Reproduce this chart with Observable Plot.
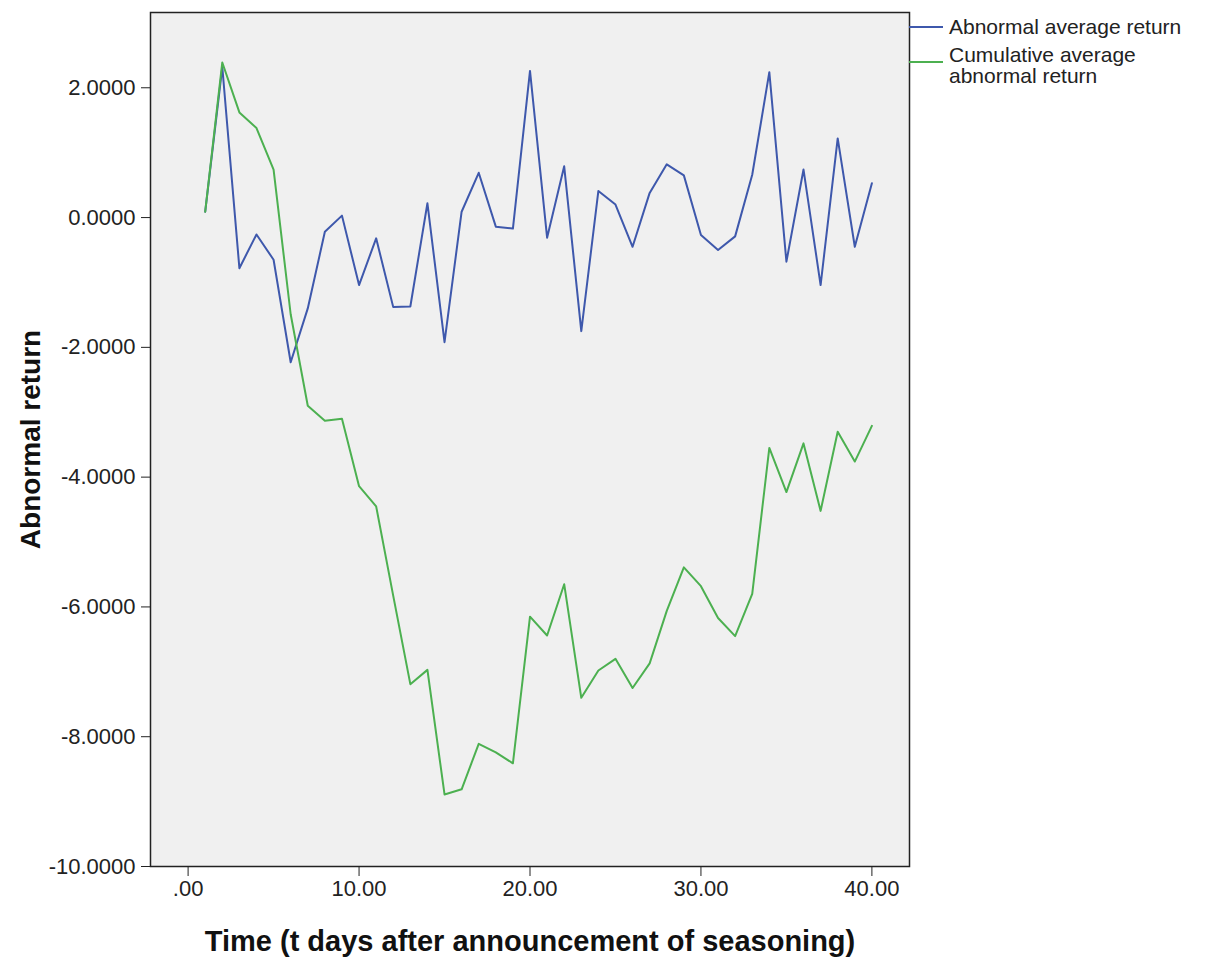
<!DOCTYPE html>
<html><head><meta charset="utf-8">
<script src="https://cdn.jsdelivr.net/npm/d3@7"></script>
<script src="https://cdn.jsdelivr.net/npm/@observablehq/plot@0.6"></script>
<style>
body{margin:0;background:#fff;}
#wrap{position:relative;width:1208px;height:961px;}
.lg{position:absolute;font-family:"Liberation Sans",Arial,sans-serif;font-size:21px;color:#222;line-height:21px;white-space:nowrap;}
.sw{position:absolute;height:2px;width:34px;}
</style></head><body><div id="wrap"></div>
<script>
const days = [1,2,3,4,5,6,7,8,9,10,11,12,13,14,15,16,17,18,19,20,21,22,23,24,25,26,27,28,29,30,31,32,33,34,35,36,37,38,39,40];
const abnormalAverageReturn = [0.09,2.32,-0.78,-0.26,-0.65,-2.23,-1.40,-0.22,0.03,-1.04,-0.32,-1.38,-1.37,0.22,-1.92,0.09,0.69,-0.14,-0.17,2.26,-0.31,0.79,-1.75,0.41,0.20,-0.45,0.38,0.82,0.65,-0.27,-0.50,-0.29,0.66,2.24,-0.68,0.74,-1.04,1.22,-0.45,0.53];
const cumulativeAverageAbnormalReturn = [0.09,2.39,1.62,1.38,0.74,-1.49,-2.90,-3.13,-3.10,-4.14,-4.45,-5.83,-7.19,-6.97,-8.89,-8.81,-8.11,-8.24,-8.41,-6.15,-6.44,-5.65,-7.40,-6.98,-6.80,-7.25,-6.87,-6.06,-5.39,-5.68,-6.17,-6.45,-5.80,-3.55,-4.23,-3.48,-4.52,-3.30,-3.76,-3.21];
const xTicks = [0,10,20,30,40];
const yTicks = [-10,-8,-6,-4,-2,0,2];
const seriesNames = ["Abnormal average return","Cumulative average abnormal return"];
const seriesColors = ["#3e58ac","#4cb050"];

const rows = days.map((d,i)=>({t:d, ar:abnormalAverageReturn[i], car:cumulativeAverageAbnormalReturn[i]}));

const chart = Plot.plot({
  width:1208, height:961,
  marginLeft:150, marginRight:299, marginTop:12, marginBottom:95,
  style:{fontFamily:"'Liberation Sans', Arial, sans-serif", fontSize:"22px", color:"#222", background:"#fff"},
  x:{domain:[-2.2,42.2]},
  y:{domain:[-10,3.16]},
  marks:[
    Plot.frame({fill:"#f0f0f0"}),
    Plot.line(rows,{x:"t", y:"ar", stroke:seriesColors[0], strokeWidth:2}),
    Plot.line(rows,{x:"t", y:"car", stroke:seriesColors[1], strokeWidth:2}),
    Plot.frame({stroke:"#222", strokeWidth:1.5}),
    Plot.axisX({ticks:xTicks, tickFormat:d=> d===0 ? ".00" : d.toFixed(2), tickSize:10, tickPadding:4, label:null, stroke:"#222"}),
    Plot.axisY({ticks:yTicks, tickFormat:d=> d.toFixed(4), tickSize:9, tickPadding:6, label:null, stroke:"#222"}),
    Plot.text(["Time (t days after announcement of seasoning)"],{frameAnchor:"bottom", dy:84, fontSize:29, fontWeight:"bold", fill:"#111"}),
    Plot.axisY({ticks:[], tickSize:0, label:"Abnormal return", labelAnchor:"center", labelArrow:"none", labelOffset:130, fontSize:28, fontWeight:"bold", fill:"#111"})
  ]
});
const wrap = document.getElementById("wrap");
wrap.appendChild(chart);

// legend
const swatches = [{color:seriesColors[0], lineY:27},{color:seriesColors[1], lineY:62}];
const lines = [{text:"Abnormal average return", top:16},{text:"Cumulative average", top:44},{text:"abnormal return", top:65}];
swatches.forEach(l=>{
  const s=document.createElement("div"); s.className="sw"; s.style.left="909px"; s.style.top=(l.lineY-1)+"px"; s.style.background=l.color; wrap.appendChild(s);
});
lines.forEach(l=>{
  const t=document.createElement("div"); t.className="lg"; t.style.left="949px"; t.style.top=l.top+"px"; t.textContent=l.text; wrap.appendChild(t);
});
</script></body></html>
